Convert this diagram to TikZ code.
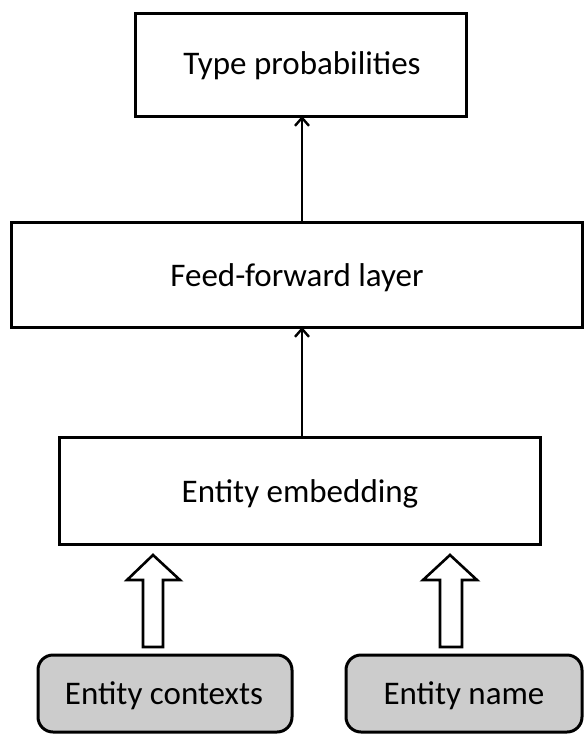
\documentclass[tikz,border=0pt]{standalone}
\usepackage{fontspec}
\setmainfont{Carlito}
\usetikzlibrary{arrows.meta}
\begin{document}
\begin{tikzpicture}[x=1pt,y=-1pt,
  layerbox/.style={draw=black,line width=3pt,fill=white},
  inputbox/.style={draw=black,line width=3pt,fill={rgb,255:red,204;green,204;blue,204},rounded corners=15pt},
  label/.style={font=\fontsize{33}{40}\selectfont,inner sep=0pt},
  flow/.style={line width=1.4pt,-{Straight Barb[length=8pt,width=14pt,line width=2.4pt]}},
  hollow/.style={draw=black,line width=2.6pt,fill=white,line join=miter}]
\useasboundingbox (0,0) rectangle (584,734);
% layer boxes
\draw[layerbox] (135,13) rectangle (466,116);
\coordinate (topS) at (302,116);
\node[label] (tp) at (302,66) {Type probabilities};
\draw[layerbox] (11,222) rectangle (582,327);
\coordinate (ffN) at (302,222);
\coordinate (ffS) at (302,327);
\node[label] (ff) at (297,278) {Feed-forward layer};
\draw[layerbox] (59,437) rectangle (540,544);
\coordinate (eeN) at (302,437);
\node[label] (ee) at (300,494) {Entity embedding};
% input boxes
\draw[inputbox] (38,655) rectangle (292,732);
\node[label] (ec) at (164,696) {Entity contexts};
\draw[inputbox] (346,655) rectangle (582,732);
\node[label] (en) at (464,696) {Entity name};
% thin arrows between layers
\draw[flow] (eeN) -- (ffS);
\draw[flow] (ffN) -- (topS);
% hollow block arrows from inputs
\draw[hollow] (143,647) -- (163,647) -- (163,580) -- (180,580) -- (153,555) -- (127,580) -- (143,580) -- cycle;
\draw[hollow] (440,647) -- (462,647) -- (462,580) -- (477,580) -- (450,555) -- (423,580) -- (440,580) -- cycle;
\end{tikzpicture}
\end{document}
